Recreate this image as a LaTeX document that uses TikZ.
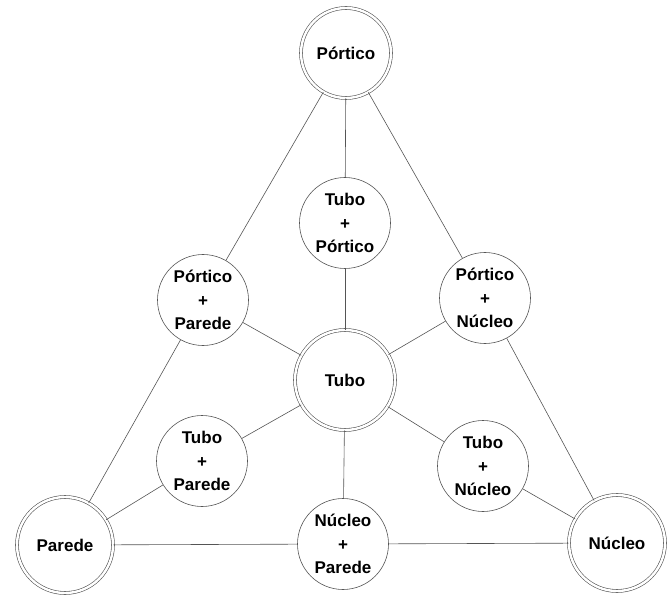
\documentclass[tikz,border=0pt]{standalone}
\usepackage{fontspec}
\newfontfamily\lblfont{Liberation Sans}
\usetikzlibrary{positioning}
\definecolor{edgegray}{RGB}{85,85,85}

\begin{document}
\begin{tikzpicture}[x=1pt,y=-1pt,semithick,
		system/.style={circle,draw=edgegray,minimum size=91pt,inner sep=0pt,align=center,
			font=\lblfont\bfseries\fontsize{17}{23.5}\selectfont},
		basic/.style={system,double,double distance=2.4pt,minimum size=#1},
		link/.style={edgegray}]
		\useasboundingbox (0,0) rectangle (667,596);

		\node[basic=90pt] (Portico) at (346,53)  {Pórtico};
		\node[basic=100pt] (Tubo)   at (345,380) {Tubo};
		\node[basic=96pt] (Parede)  at (65,545)  {Parede};
		\node[basic=96pt] (Nucleo)  at (617,543) {Núcleo};
		\node[system] (TP) at (345,223) {Tubo\\+\\Pórtico};
		\node[system] (PP) at (203,300) {Pórtico\\+\\Parede};
		\node[system] (PN) at (485,298) {Pórtico\\+\\Núcleo};
		\node[system] (TPa) at (202,461) {Tubo\\+\\Parede};
		\node[system] (TN) at (483,466) {Tubo\\+\\Núcleo};
		\node[system] (NP) at (343,544) {Núcleo\\+\\Parede};

		\path[link] (Portico) edge (TP)
			edge (PP)
			edge (PN);
		\path[link] (Tubo) edge (TP)
			edge (PP)
			edge (PN)
			edge (TPa)
			edge (TN)
			edge (NP);
		\path[link] (Parede) edge (PP)
			edge (TPa)
			edge (NP);
		\path[link] (Nucleo) edge (PN)
			edge (TN)
			edge (NP);
	\end{tikzpicture}
\end{document}
